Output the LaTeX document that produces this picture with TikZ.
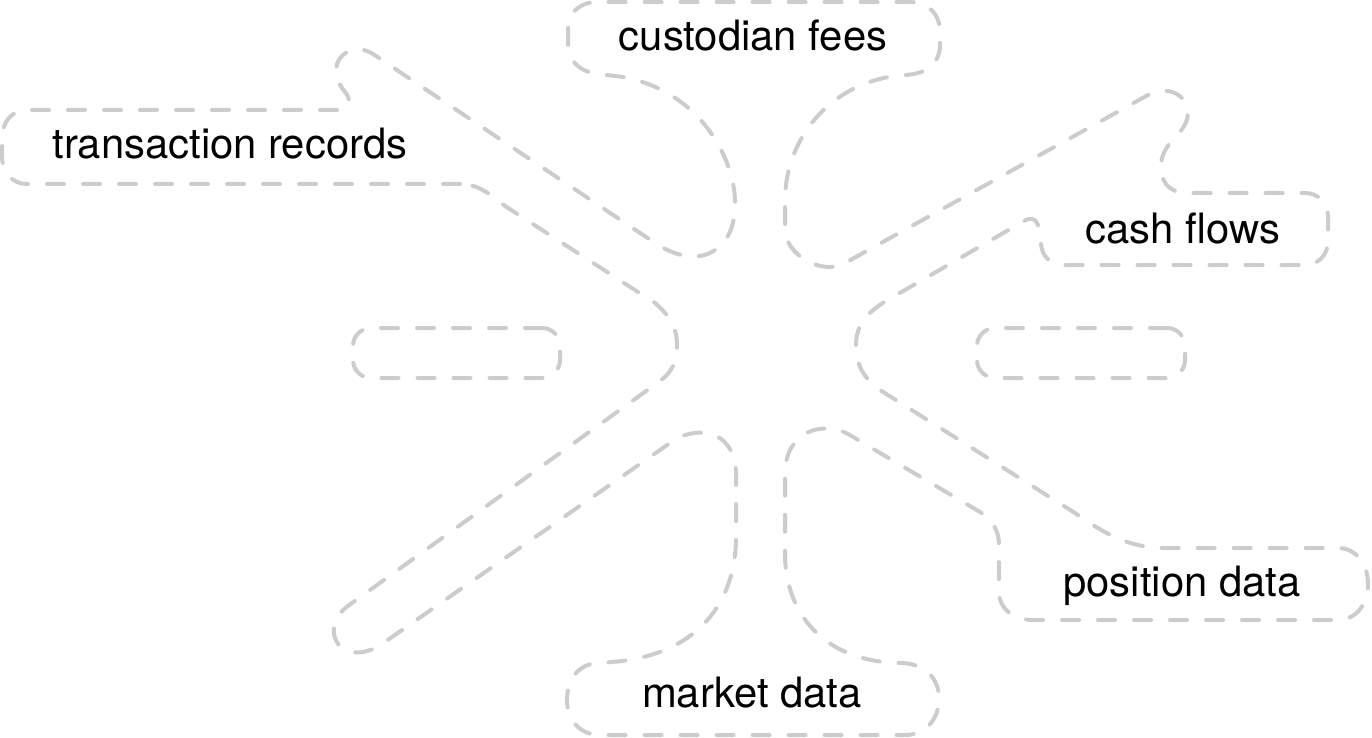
\documentclass[tikz,border=0pt]{standalone}
\usepackage{fontspec}
\setmainfont{TeX Gyre Heros}
\definecolor{linegray}{HTML}{CCCCCC}
\begin{document}
\begin{tikzpicture}[x=0.5pt,y=-0.5pt,
  outline/.style={draw=linegray, line width=2pt, dash pattern=on 8.5pt off 9.5pt, line cap=round, line join=round},
  smallbox/.style={outline, rounded corners=9pt, minimum height=25pt, inner sep=0pt},
  lbl/.style={anchor=base, inner sep=0pt, font=\fontsize{20.9}{24}\selectfont, text=black}]
\useasboundingbox (0,0) rectangle (1372,738);

\draw[outline]
 (460,184) -- (27,184)
 .. controls (12,184) and (2,172) .. (2,156)
 -- (2,138)
 .. controls (2,122) and (12,110) .. (27,110)
 -- (338,110)
 .. controls (350,110) and (352,100) .. (345,92)
 .. controls (335,80) and (332,65) .. (343,55)
 .. controls (351,48) and (362,47) .. (373,54)
 -- (652,241)
 .. controls (668,252) and (690,262) .. (710,253)
 .. controls (728,244) and (736,225) .. (735,200)
 .. controls (733,150) and (690,80) .. (605,75)
 .. controls (582,74) and (568,62) .. (568,45)
 -- (568,30)
 .. controls (568,12) and (580,2) .. (598,2)
 -- (910,2)
 .. controls (928,2) and (940,14) .. (940,32)
 -- (940,45)
 .. controls (940,62) and (928,74) .. (905,75)
 .. controls (830,80) and (785,140) .. (785,200)
 -- (785,230)
 .. controls (786,255) and (822,276) .. (845,263)
 -- (1148,95)
 .. controls (1162,87) and (1182,90) .. (1187,107)
 .. controls (1191,122) and (1180,132) .. (1172,141)
 .. controls (1160,153) and (1157,172) .. (1166,184)
 .. controls (1171,190) and (1177,193) .. (1188,193)
 -- (1305,193)
 .. controls (1318,193) and (1328,203) .. (1328,217)
 -- (1328,241)
 .. controls (1328,255) and (1318,265) .. (1305,265)
 -- (1065,265)
 .. controls (1050,265) and (1042,256) .. (1041,244)
 -- (1039,230)
 .. controls (1038,220) and (1032,216) .. (1024,221)
 -- (886,301)
 .. controls (866,313) and (856,326) .. (856,345)
 .. controls (856,364) and (863,378) .. (880,390)
 -- (1075,513)
 .. controls (1100,530) and (1125,548) .. (1165,548)
 -- (1338,548)
 .. controls (1356,548) and (1368,564) .. (1368,584)
 .. controls (1368,604) and (1356,620) .. (1338,620)
 -- (1033,620)
 .. controls (1014,620) and (999,609) .. (999,592)
 -- (999,545)
 .. controls (999,530) and (992,520) .. (980,512)
 -- (848,434)
 .. controls (822,420) and (786,432) .. (785,472)
 -- (785,557)
 .. controls (787,620) and (830,662) .. (900,663)
 .. controls (924,663) and (939,678) .. (939,698)
 .. controls (939,720) and (925,735) .. (905,735)
 -- (600,735)
 .. controls (580,735) and (567,720) .. (567,700)
 .. controls (567,680) and (578,663) .. (600,663)
 -- (612,662)
 .. controls (700,655) and (736,600) .. (736,537)
 -- (736,472)
 .. controls (735,445) and (718,430) .. (695,433)
 .. controls (686,434) and (678,437) .. (670,443)
 -- (382,644)
 .. controls (363,657) and (341,655) .. (335,638)
 .. controls (330,622) and (340,611) .. (352,603)
 -- (660,381)
 .. controls (672,372) and (677,362) .. (677,345)
 .. controls (677,328) and (670,316) .. (655,303)
 -- (505,206)
 .. controls (490,194) and (478,184) .. (460,184)
 -- cycle;

\node[smallbox, minimum width=103.5pt] (lbox) at (456.5,353) {};
\node[smallbox, minimum width=104pt] (rbox) at (1081,353) {};

\node[lbl] (tr) at (230,159) {transaction records};
\node[lbl] (cf) at (753,51) {custodian fees};
\node[lbl] (cash) at (1183,243) {cash flows};
\node[lbl] (pos) at (1182,596) {position data};
\node[lbl] (mkt) at (752,707) {market data};
\end{tikzpicture}
\end{document}
